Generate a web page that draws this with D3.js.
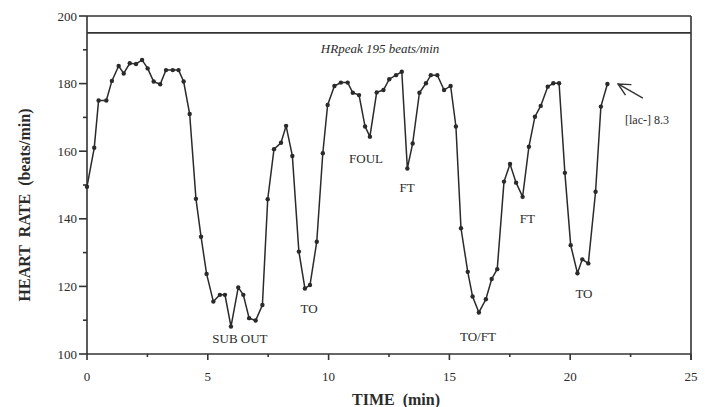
<!DOCTYPE html>
<html lang="en">
<head>
<meta charset="utf-8"/>
<title>Heart rate during game</title>
<script src="https://d3js.org/d3.v7.min.js"></script>
<style>
  body { margin: 0; background: #fff; }
  text { font-family: "Liberation Serif", "Times New Roman", serif; fill: #2b2b2b; }
  .axis-line { stroke: #333; stroke-width: 1.6px; fill: none; }
  .hr-line { stroke: #2a2a2a; stroke-width: 1.5px; fill: none; }
  .dot { fill: #2a2a2a; }
  .note { font-size: 13px; }
</style>
</head>
<body>
<svg id="chart" width="710" height="407"></svg>
<script>
// heart rate samples
const times = [0, 0.30, 0.48, 0.80, 1.03, 1.31, 1.52, 1.77, 2.03, 2.28, 2.51, 2.76, 3.03, 3.27, 3.55, 3.79,
  4.00, 4.25, 4.51, 4.72, 4.95, 5.23, 5.50, 5.71, 5.96, 6.26, 6.47, 6.71, 6.98, 7.26, 7.48, 7.74,
  8.03, 8.24, 8.50, 8.77, 9.02, 9.23, 9.51, 9.76, 9.96, 10.24, 10.51, 10.79, 11.00, 11.26, 11.51, 11.71,
  11.99, 12.27, 12.51, 12.79, 13.03, 13.26, 13.48, 13.76, 14.03, 14.23, 14.50, 14.78, 15.05, 15.27,
  15.48, 15.76, 15.96, 16.22, 16.51, 16.75, 16.98, 17.26, 17.51, 17.76, 18.03, 18.29, 18.54, 18.78,
  19.07, 19.30, 19.54, 19.78, 20.02, 20.30, 20.50, 20.75, 21.05, 21.27, 21.54];
const heartRate = [149.5, 161, 175, 175, 180.8, 185.2, 183, 186, 185.8, 187, 184.5, 180.6, 179.8, 184, 184, 184,
  180.6, 171, 145.9, 134.7, 123.7, 115.5, 117.5, 117.5, 108.1, 119.7, 117.5, 110.6, 109.9, 114.5, 145.8, 160.6,
  162.5, 167.5, 158.6, 130.3, 119.4, 120.4, 133.2, 159.4, 173.7, 179.3, 180.3, 180.3, 177.3, 176.6, 167.3, 164.3,
  177.4, 178.1, 181.3, 182.5, 183.5, 154.9, 162.3, 177.3, 180.1, 182.5, 182.5, 178.1, 179.3, 167.3,
  137.2, 124.3, 117, 112.3, 116.2, 122.2, 125.1, 151, 156.2, 150.7, 146.5, 161.3, 170.2, 173.4,
  179.1, 180.1, 180.1, 153.6, 132.2, 123.9, 128, 126.8, 148, 173.2, 179.9];

const xTicks = [0, 5, 10, 15, 20, 25];
const xMinor = [2.5, 7.5, 12.5, 17.5, 22.5];
const yTicks = [100, 120, 140, 160, 180, 200];
const yMinor = [110, 130, 150, 170, 190];
const hrPeak = 195;

// event labels [text, time, hr]
const noteText = ["SUB OUT", "TO", "FOUL", "FT", "TO/FT", "FT", "TO"];
const noteTime = [6.33, 9.19, 11.55, 13.25, 16.18, 18.23, 20.57];
const noteHR = [104.7, 113.6, 157.7, 149.4, 105.3, 140.1, 117.8];

const svg = d3.select("#chart");
const x = d3.scaleLinear().domain([0, 25]).range([87, 691]);
const y = d3.scaleLinear().domain([100, 200]).range([354, 16]);

// arrow head marker (open chevron)
svg.append("defs").append("marker")
  .attr("id", "arrow")
  .attr("viewBox", "0 0 14 14")
  .attr("refX", 13).attr("refY", 7)
  .attr("markerWidth", 14).attr("markerHeight", 14)
  .attr("markerUnits", "userSpaceOnUse")
  .attr("orient", "auto")
  .append("path")
  .attr("d", "M1,1 L13,7 L1,13")
  .style("fill", "none").style("stroke", "#333").style("stroke-width", 1.4);

// frame: y axis, x axis, top at 200, right border
svg.append("line").attr("class", "axis-line")
  .attr("x1", x(0)).attr("x2", x(0)).attr("y1", y(200)).attr("y2", y(100));
svg.append("line").attr("class", "axis-line")
  .attr("x1", x(0)).attr("x2", x(25)).attr("y1", y(100)).attr("y2", y(100));
svg.append("line").attr("class", "axis-line")
  .attr("x1", x(0)).attr("x2", x(25)).attr("y1", y(200)).attr("y2", y(200));
svg.append("line").attr("class", "axis-line")
  .attr("x1", x(25)).attr("x2", x(25)).attr("y1", y(200)).attr("y2", y(100) + 6);
svg.append("line").attr("class", "axis-line")
  .attr("x1", x(0)).attr("x2", x(25)).attr("y1", y(hrPeak)).attr("y2", y(hrPeak));

// y ticks
svg.selectAll(".ytick").data(yTicks).enter().append("line")
  .attr("class", "axis-line")
  .attr("x1", x(0) - 8).attr("x2", x(0))
  .attr("y1", d => y(d)).attr("y2", d => y(d));
svg.selectAll(".ytickm").data(yMinor).enter().append("line")
  .attr("class", "axis-line")
  .attr("x1", x(0) - 4).attr("x2", x(0))
  .attr("y1", d => y(d)).attr("y2", d => y(d));
svg.selectAll(".ylab").data(yTicks).enter().append("text")
  .attr("x", x(0) - 10).attr("y", d => y(d) + 4.5)
  .attr("text-anchor", "end")
  .style("font-size", "13px")
  .text(d => d);

// x ticks
svg.selectAll(".xtick").data(xTicks).enter().append("line")
  .attr("class", "axis-line")
  .attr("x1", d => x(d)).attr("x2", d => x(d))
  .attr("y1", y(100)).attr("y2", y(100) + 6);
svg.selectAll(".xtickm").data(xMinor).enter().append("line")
  .attr("class", "axis-line")
  .attr("x1", d => x(d)).attr("x2", d => x(d))
  .attr("y1", y(100)).attr("y2", y(100) + 3);
svg.selectAll(".xlab").data(xTicks).enter().append("text")
  .attr("x", d => x(d)).attr("y", y(100) + 27)
  .attr("text-anchor", "middle")
  .style("font-size", "13px")
  .text(d => d);

// axis titles
svg.append("text")
  .attr("x", 396).attr("y", 405)
  .attr("text-anchor", "middle")
  .style("font-size", "16px").style("font-weight", "bold")
  .text("TIME\u00a0\u00a0(min)");
svg.append("text")
  .attr("transform", "translate(30," + 205 + ") rotate(-90)")
  .attr("text-anchor", "middle")
  .style("font-size", "16px").style("font-weight", "bold")
  .text("HEART\u00a0\u00a0RATE\u00a0\u00a0(beats/min)");

// data line + dots
const pts = times.map((t, i) => [t, heartRate[i]]);
const line = d3.line().x(d => x(d[0])).y(d => y(d[1]));
svg.append("path").datum(pts).attr("class", "hr-line").attr("d", line);
svg.selectAll(".dot").data(pts).enter().append("circle")
  .attr("class", "dot")
  .attr("cx", d => x(d[0])).attr("cy", d => y(d[1])).attr("r", 2.2);

// annotations
svg.append("text")
  .attr("x", x(12.13)).attr("y", y(190.2) + 4)
  .attr("text-anchor", "middle")
  .style("font-size", "13px").style("font-style", "italic")
  .text("HRpeak 195 beats/min");
svg.selectAll(".note").data(noteText).enter().append("text")
  .attr("class", "note")
  .attr("x", (d, i) => x(noteTime[i])).attr("y", (d, i) => y(noteHR[i]) + 4.5)
  .attr("text-anchor", "middle")
  .text(d => d);

svg.append("line")
  .attr("x1", x(23.01)).attr("y1", y(175.7))
  .attr("x2", x(21.98)).attr("y2", y(179.9))
  .style("stroke", "#333").style("stroke-width", 1.4)
  .attr("marker-end", "url(#arrow)");
svg.append("text")
  .attr("x", x(22.27)).attr("y", y(169.5) + 4.5)
  .style("font-size", "12px")
  .text("[lac-] 8.3");
</script>
</body>
</html>
